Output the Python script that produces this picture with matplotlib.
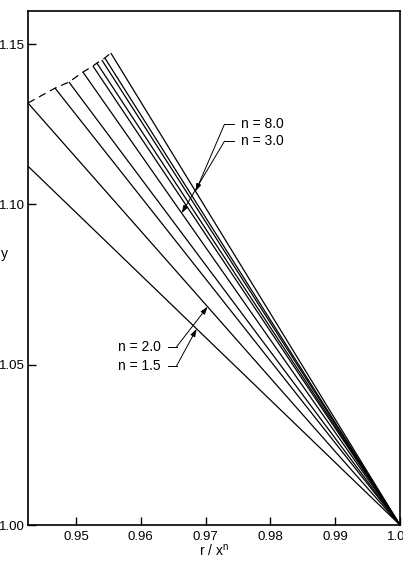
import matplotlib
matplotlib.use('Agg')
import matplotlib.pyplot as plt
import numpy as np

plt.rcParams['font.family'] = ['Liberation Sans', 'DejaVu Sans']

# %%%%%%%%%%%%%%%%%%%%%% Data %%%%%%%%%%%%%%%%%%%%%%
# straight lines that all meet at (1.0, 1.0); left ends
n_values = [1.5, 2.0, 2.5, 2.75, 3.0, 4.0, 5.0, 6.0, 7.0, 8.0]
x_start = [0.9426, 0.9426, 0.94677, 0.94892, 0.95108, 0.95262, 0.95323, 0.95400, 0.95446, 0.95538]
y_start = [1.1119, 1.1316, 1.13625, 1.13813, 1.14125, 1.14313, 1.14406, 1.14500, 1.14563, 1.14720]
x_end = 1.0
y_end = 1.0

xticks = [0.95, 0.96, 0.97, 0.98, 0.99, 1.00]
yticks = [1.00, 1.05, 1.10, 1.15]

# labelled curves: (text, n, tip x, elbow x, elbow y, side)
labels = [('n = 8.0', 8.0, 0.96846, 0.97292, 1.1250, 'right'),
          ('n = 3.0', 3.0, 0.96631, 0.97292, 1.1197, 'right'),
          ('n = 2.0', 2.0, 0.97031, 0.96554, 1.0556, 'left'),
          ('n = 1.5', 1.5, 0.96862, 0.96554, 1.0497, 'left')]


def line_y(n, x):
    i = n_values.index(n)
    s = (y_start[i] - y_end) / (x_start[i] - x_end)
    return y_end + s * (x - x_end)


# %%%%%%%%%%%%%%%%%%%%%% Plot %%%%%%%%%%%%%%%%%%%%%%
fig = plt.figure(figsize=(4.03, 5.67), dpi=100)
ax = fig.add_axes([28/403, 1 - 525/567, 372/403, 514/567])

for xs, ys in zip(x_start, y_start):
    ax.plot([xs, x_end], [ys, y_end], color='k', lw=0.9, solid_capstyle='butt')

# dashed envelope through the starting points
ax.plot(x_start[1:], y_start[1:], color='k', lw=0.9, ls=(0, (6, 4)))

for text, n, xt, xe, ye, side in labels:
    yt = line_y(n, xt)
    ax.annotate('', xy=(xt, yt), xytext=(xe, ye),
                arrowprops=dict(arrowstyle='-|>,head_length=0.45,head_width=0.15',
                                color='k', lw=0.7, shrinkA=0, shrinkB=0))
    if side == 'right':
        ax.plot([xe, xe + 0.0015], [ye, ye], color='k', lw=0.7)
        ax.text(xe + 0.0025, ye, text, ha='left', va='center', fontsize=10)
    else:
        ax.plot([xe - 0.0014, xe], [ye, ye], color='k', lw=0.7)
        ax.text(xe - 0.0025, ye, text, ha='right', va='center', fontsize=10)

ax.set_xlim(0.9426, 1.0)
ax.set_ylim(1.0, 1.1603)
ax.set_xticks(xticks)
ax.set_xticklabels(['0.95', '0.96', '0.97', '0.98', '0.99', '1.00'])
ax.set_yticks(yticks)
ax.set_yticklabels(['1.00', '1.05', '1.10', '1.15'])
ax.tick_params(axis='both', direction='in', length=6, width=1.0, labelsize=9.5)
ax.tick_params(axis='y', pad=2)
ax.tick_params(axis='x', pad=4)
for sp in ax.spines.values():
    sp.set_linewidth(1.2)

ax.set_xlabel(r'r / x$^{\mathregular{n}}$', fontsize=10, labelpad=0)
fig.text(0.5/403, 1 - 254/567, 'y', ha='left', va='center', fontsize=10)

fig.savefig('out.png', dpi=100)
